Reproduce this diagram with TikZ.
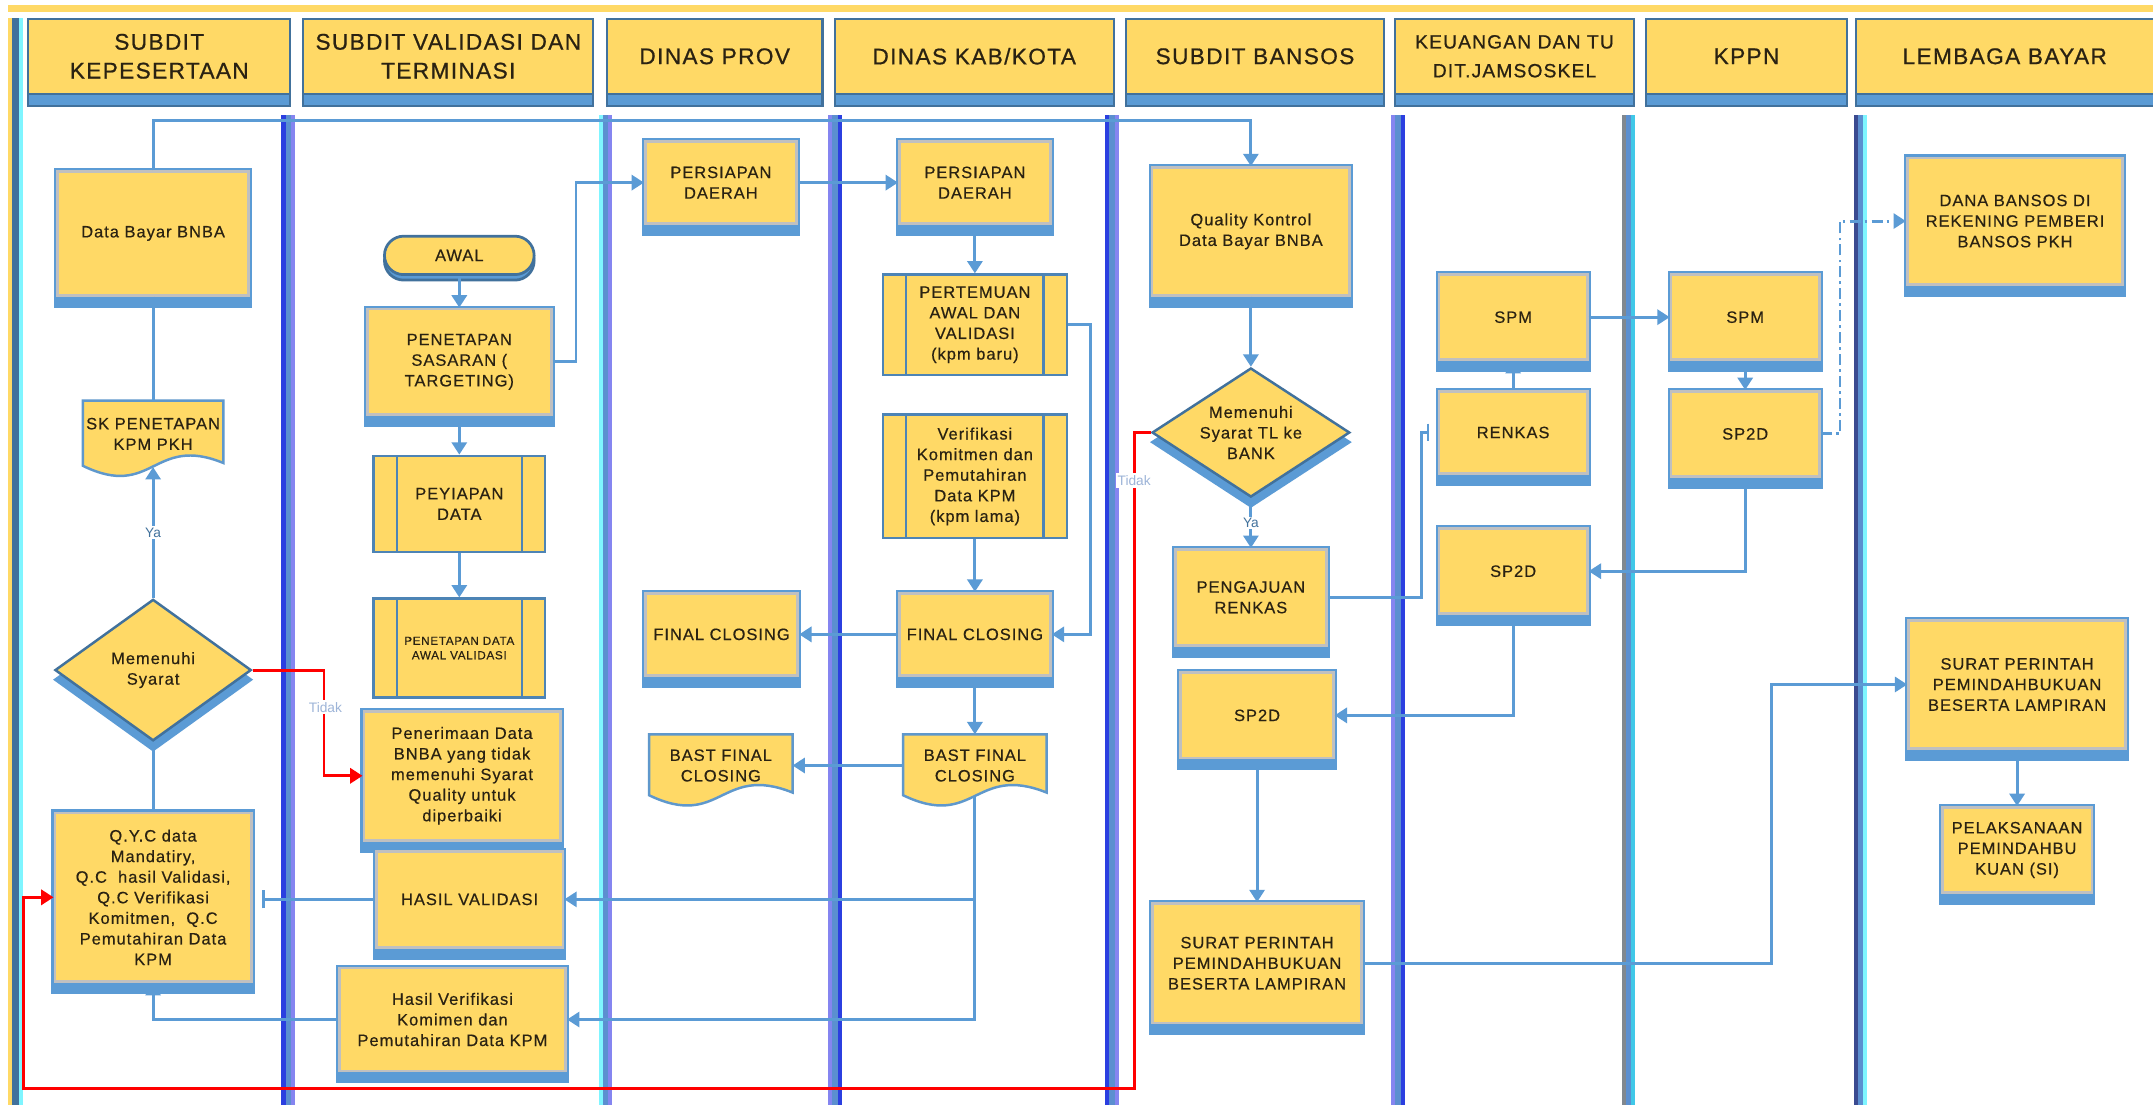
\documentclass[tikz,border=0pt]{standalone}
\usepackage{fontspec}
\setmainfont{Liberation Sans}
\newfontfamily\boxff{Liberation Sans}[LetterSpace=6,FakeBold=0.5]
\newfontfamily\hdrff{Liberation Sans}[LetterSpace=6,FakeBold=0.7]
\usetikzlibrary{shapes.geometric,arrows.meta,shadows,calc}
\pgfdeclarelayer{bgl}
\pgfdeclarelayer{docl}
\pgfsetlayers{bgl,docl,main}
\definecolor{boxyellow}{HTML}{FFD966}
\definecolor{boxblue}{HTML}{5B9BD5}
\definecolor{boxgrey}{HTML}{C0C0C0}
\definecolor{hdrdark}{HTML}{41719C}
\definecolor{linkblue}{HTML}{5B9BD5}
\definecolor{lbBright}{HTML}{2B3FE0}
\definecolor{lbMid}{HTML}{5B8FD0}
\definecolor{lbPeri}{HTML}{8585F0}
\definecolor{lbCyan}{HTML}{7FF5FF}
\definecolor{lbGrey}{HTML}{808890}
\definecolor{lbNavy}{HTML}{3B4A90}
\definecolor{lbSky}{HTML}{40C8E8}
\definecolor{txtdark}{HTML}{2A2212}
\definecolor{tidakc}{HTML}{9DB4D8}
\newcommand\myboxfont{\boxff\fontsize{12}{15}\selectfont}
\newcommand\mytinyfont{\boxff\fontsize{8.5}{10.5}\selectfont}
\newcommand\myhdrfont{\hdrff\fontsize{16.5}{21}\selectfont}
\newcommand\myjamfont{\hdrff\fontsize{14}{21}\selectfont}
\newcommand\mylblfont{\fontsize{10}{12}\selectfont}
\newcommand\lanebar[4]{%
  \fill[#2] (#1,84) rectangle ++(3,721);
  \fill[#3] ($(#1,84)+(3,0)$) rectangle ++(4,721);
  \fill[#4] ($(#1,84)+(7,0)$) rectangle ++(3,721);}
\newcommand\docshape[1]{%
  \path[docsh] (#1.north west) -- (#1.north east) -- ([yshift=3pt]#1.south east)
    .. controls ([yshift=24pt]#1.south) and ([yshift=-24pt]#1.south) .. ([yshift=1pt]#1.south west) -- cycle;}
\tikzset{
  every node/.style={text=txtdark},
  hdr/.style={rectangle, fill=boxyellow, draw=hdrdark, line width=1.5pt, align=center, inner sep=0pt,
    font=\myhdrfont, minimum height=55pt,
    drop shadow={shadow xshift=0pt, shadow yshift=-9pt, fill=boxblue, draw=hdrdark, line width=1.5pt, opacity=1}},
  proc/.style={rectangle, fill=boxyellow, draw=boxgrey, line width=2pt, align=center, inner sep=1pt,
    font=\myboxfont,
    preaction={draw=boxblue, line width=5pt},
    drop shadow={shadow xshift=0pt, shadow yshift=-6.5pt, fill=boxblue, draw=boxblue, line width=5pt, opacity=1}},
  predef/.style={rectangle, fill=boxyellow, draw=boxblue!85!black, line width=1.8pt, align=center,
    inner sep=1pt, font=\myboxfont,
    path picture={\draw[boxblue!85!black, line width=1.8pt]
      ([xshift=17pt]path picture bounding box.north west) -- ([xshift=17pt]path picture bounding box.south west)
      ([xshift=-17pt]path picture bounding box.north east) -- ([xshift=-17pt]path picture bounding box.south east);}},
  decision/.style={diamond, aspect=1.4, fill=boxyellow, draw=hdrdark, line width=1.8pt, align=center,
    inner sep=0pt, font=\myboxfont,
    drop shadow={shadow xshift=0pt, shadow yshift=-7pt, fill=boxblue, draw=boxblue, line width=2pt, opacity=1}},
  term/.style={rectangle, rounded corners=14pt, fill=boxyellow, draw=hdrdark, line width=2pt,
    font=\myboxfont, align=center,
    drop shadow={shadow xshift=0pt, shadow yshift=-4pt, fill=boxblue, draw=hdrdark, line width=2pt, opacity=1}},
  docnode/.style={rectangle, align=center, inner sep=0pt, font=\myboxfont},
  docsh/.style={fill=boxyellow, draw=boxblue!90!gray, line width=1.8pt},
  conn/.style={draw=linkblue, line width=2.1pt},
  arr/.style={conn, -{Triangle[length=9pt, width=11pt]}},
  rarr/.style={draw=red, line width=2.1pt, -{Triangle[length=9pt, width=11pt]}},
  bararr/.style={conn, -{Bar[width=13pt, line width=2pt]}},
  dasharr/.style={conn, dash pattern=on 8pt off 3pt on 2pt off 3pt, -{Triangle[length=9pt, width=11pt]}},
  yalbl/.style={font=\mylblfont, text=hdrdark, fill=white, inner sep=1pt},
  tidaklbl/.style={font=\mylblfont, text=tidakc, fill=white, inner sep=1.5pt},
}
\begin{document}
\begin{tikzpicture}[x=1pt,y=-1pt]
\useasboundingbox (0,0) rectangle (1568,805);
\begin{pgfonlayer}{bgl}
  \fill[white] (0,0) rectangle (1568,805);
  \fill[boxyellow] (6,4) rectangle (1568,9);
  \fill[boxyellow] (6,13) rectangle (9,805);
  \fill[hdrdark] (9,13) rectangle (14,805);
  \fill[lbCyan] (14,13) rectangle (17,805);
  \lanebar{205}{lbBright}{lbMid}{lbPeri}
  \lanebar{436}{lbCyan}{lbMid}{lbPeri}
  \lanebar{603}{lbPeri}{lbMid}{lbBright}
  \lanebar{805}{lbBright}{lbMid}{lbPeri}
  \lanebar{1013}{lbPeri}{lbMid}{lbBright}
  \lanebar{1181}{lbGrey}{lbMid}{lbSky}
  \lanebar{1350}{lbNavy}{lbMid}{lbCyan}
\end{pgfonlayer}

% headers
\node[hdr, minimum width=191pt] (h1) at (116,41) {SUBDIT\\KEPESERTAAN};
\node[hdr, minimum width=211pt] (h2) at (326.5,41) {SUBDIT VALIDASI DAN\\TERMINASI};
\node[hdr, minimum width=157pt] (h3) at (520.5,41) {DINAS PROV};
\node[hdr, minimum width=203pt] (h4) at (709.5,41) {DINAS KAB/KOTA};
\node[hdr, minimum width=188pt] (h5) at (914,41) {SUBDIT BANSOS};
\node[hdr, minimum width=174pt, font=\myjamfont] (h6) at (1103,41) {KEUANGAN DAN TU\\DIT.JAMSOSKEL};
\node[hdr, minimum width=146pt] (h7) at (1272,41) {KPPN};
\node[hdr, minimum width=217pt] (h8) at (1460,41) {LEMBAGA BAYAR};

% column 1
\node[proc, minimum width=139pt, minimum height=90pt] (data) at (111.5,170) {Data Bayar BNBA};
\node[docnode, minimum width=102pt, minimum height=48pt] (sk) at (111.5,316) {SK PENETAPAN\\KPM PKH};
\node[decision, minimum width=143pt, minimum height=103pt] (d1) at (111.5,488) {Memenuhi\\Syarat};
\node[proc, minimum width=143pt, minimum height=123pt] (qyc) at (111.5,653.5)
  {Q.Y.C data\\Mandatiry,\\Q.C\ \ hasil Validasi,\\Q.C Verifikasi\\Komitmen,\ \ Q.C\\Pemutahiran Data\\KPM};

% column 2
\node[term, minimum width=109pt, minimum height=28pt] (awal) at (334.5,186) {AWAL};
\node[proc, minimum width=134pt, minimum height=77pt] (pen) at (334.5,263.5) {PENETAPAN\\SASARAN (\\TARGETING)};
\node[predef, minimum width=125pt, minimum height=70pt] (pey) at (334.5,367) {PEYIAPAN\\DATA};
\node[predef, minimum width=125pt, minimum height=72pt, font=\mytinyfont] (pda) at (334.5,472) {PENETAPAN DATA\\AWAL VALIDASI};
\node[proc, minimum width=143pt, minimum height=94pt] (pnr) at (336.5,565)
  {Penerimaan Data\\BNBA yang tidak\\memenuhi Syarat\\Quality untuk\\diperbaiki};
\node[proc, minimum width=136pt, minimum height=70pt] (hv) at (342,655) {HASIL VALIDASI};
\node[proc, minimum width=165pt, minimum height=75pt] (hvk) at (329.5,742.5)
  {Hasil Verifikasi\\Komimen dan\\Pemutahiran Data KPM};

% column 3
\node[proc, minimum width=110pt, minimum height=60pt] (pp) at (525,133) {PERSIAPAN\\DAERAH};
\node[proc, minimum width=111pt, minimum height=60pt] (fcp) at (525.5,462) {FINAL CLOSING};
\node[docnode, minimum width=104pt, minimum height=45pt] (bp) at (525,557.5) {BAST FINAL\\CLOSING};

% column 4
\node[proc, minimum width=110pt, minimum height=60pt] (pk) at (710,133) {PERSIAPAN\\DAERAH};
\node[predef, minimum width=134pt, minimum height=73pt] (pert) at (710,236.5) {PERTEMUAN\\AWAL DAN\\VALIDASI\\(kpm baru)};
\node[predef, minimum width=134pt, minimum height=90pt] (ver) at (710,347)
  {Verifikasi\\Komitmen dan\\Pemutahiran\\Data KPM\\(kpm lama)};
\node[proc, minimum width=110pt, minimum height=60pt] (fck) at (710,462) {FINAL CLOSING};
\node[docnode, minimum width=104pt, minimum height=45pt] (bk) at (710,557.5) {BAST FINAL\\CLOSING};

% column 5
\node[proc, minimum width=144pt, minimum height=93pt] (qk) at (911,168.5) {Quality Kontrol\\Data Bayar BNBA};
\node[decision, minimum width=144pt, minimum height=94pt] (d2) at (911,315) {Memenuhi\\Syarat TL ke\\BANK};
\node[proc, minimum width=110pt, minimum height=70pt] (peng) at (911,435) {PENGAJUAN\\RENKAS};
\node[proc, minimum width=111pt, minimum height=62pt] (sp5) at (915.5,521) {SP2D};
\node[proc, minimum width=152pt, minimum height=87pt] (s5) at (915.5,701.5)
  {SURAT PERINTAH\\PEMINDAHBUKUAN\\BESERTA LAMPIRAN};

% column 6
\node[proc, minimum width=108pt, minimum height=62pt] (spm6) at (1102,231) {SPM};
\node[proc, minimum width=108pt, minimum height=60pt] (ren) at (1102,315) {RENKAS};
\node[proc, minimum width=108pt, minimum height=62pt] (sp6) at (1102,416) {SP2D};

% column 7
\node[proc, minimum width=108pt, minimum height=62pt] (spm7) at (1271,231) {SPM};
\node[proc, minimum width=108pt, minimum height=62pt] (sp7) at (1271,316) {SP2D};

% column 8
\node[proc, minimum width=157pt, minimum height=92pt] (dana) at (1467.5,161)
  {DANA BANSOS DI\\REKENING PEMBERI\\BANSOS PKH};
\node[proc, minimum width=158pt, minimum height=93pt] (s8) at (1469,498.5)
  {SURAT PERINTAH\\PEMINDAHBUKUAN\\BESERTA LAMPIRAN};
\node[proc, minimum width=109pt, minimum height=62pt] (pel) at (1469,619)
  {PELAKSANAAN\\PEMINDAHBU\\KUAN (SI)};

% document shapes behind their text
\begin{pgfonlayer}{docl}
  \docshape{sk}
  \docshape{bp}
  \docshape{bk}
\end{pgfonlayer}

% helper coordinates
\coordinate (topln) at (0,88);
\coordinate (qycbar) at ([xshift=7pt]qyc.east);
\coordinate (rd1) at (826,793);
\coordinate (rd2) at (17,793);

% connectors column 1
\draw[arr] (data.north) -- (data.north |- topln) -| (qk.north);
\draw[conn] (data.south) -- (sk.north);
\draw[arr] (d1.north) -- node[yalbl] (ya1) {Ya} (sk.south);
\draw[conn] (qyc.north) -- (d1.south);
\draw[rarr] (d1.east) -| ([xshift=-28pt]pnr.west) -- (pnr.west);

% column 2
\draw[arr] (awal.south) -- (pen.north);
\draw[arr] (pen.south) -- (pey.north);
\draw[arr] (pey.south) -- (pda.north);
\draw[arr] (pen.east) -- ++(17,0) |- (pp.west);
\draw[bararr] (hv.west) -- (hv.west -| qycbar);
\draw[arr] (hvk.west) -| (qyc.south);

% columns 3 and 4
\draw[arr] (pp.east) -- (pk.west);
\draw[arr] (pk.south) -- (pert.north);
\draw[arr] (ver.south) -- (fck.north);
\draw[arr] (pert.east) -- ++(16,0) |- (fck.east);
\draw[arr] (fck.west) -- (fcp.east);
\draw[arr] (fck.south) -- (bk.north);
\draw[arr] (bk.west) -- (bp.east);
\draw[arr] (bk.south) |- (hv.east);
\draw[arr] (bk.south) |- (hvk.east);

% red return line
\draw[rarr] (d2.west) -| (rd1) -- (rd2) |- (qyc.west);

% column 5
\draw[arr] (qk.south) -- (d2.north);
\draw[arr] (d2.south) -- node[yalbl] (ya2) {Ya} (peng.north);
\draw[arr] (sp5.south) -- (s5.north);
\draw[bararr] (peng.east) -| ([xshift=-12pt]ren.west) -- ([xshift=-6pt]ren.west);
\draw[arr] (s5.east) -| ([xshift=-99pt]s8.west) -- (s8.west);

% column 6
\draw[arr] (ren.north) -- (spm6.south);
\draw[arr] (spm6.east) -- (spm7.west);
\draw[arr] (sp6.south) |- (sp5.east);

% column 7
\draw[arr] (spm7.south) -- (sp7.north);
\draw[arr] (sp7.south) |- (sp6.east);
\draw[dasharr] (sp7.east) -- ++(14,0) |- (dana.west);

% column 8
\draw[arr] (s8.south) -- (pel.north);

% Tidak labels
\node[tidaklbl] (td1) at (237,515) {Tidak};
\node[tidaklbl] (td2) at (826,350) {Tidak};
\end{tikzpicture}
\end{document}
